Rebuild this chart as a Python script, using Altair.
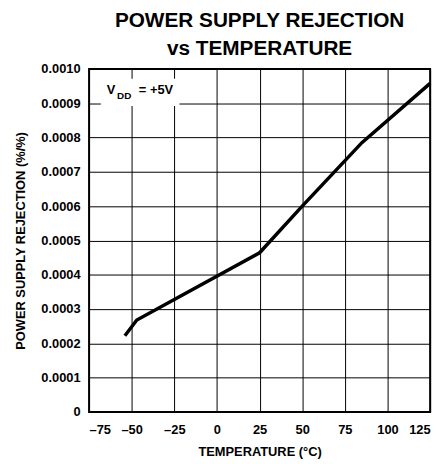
import altair as alt
import pandas as pd

temps = [-54, -47, 25, 50, 85, 125]
psr = [0.000222, 0.000268, 0.000464, 0.000600, 0.000785, 0.000958]
x_ticks = [-75, -50, -25, 0, 25, 50, 75, 100, 125]
y_ticks = [0, 0.0001, 0.0002, 0.0003, 0.0004, 0.0005, 0.0006, 0.0007, 0.0008, 0.0009, 0.0010]

FONT = "Liberation Sans"
df = pd.DataFrame({"t": temps, "p": psr})

xs = alt.Scale(domain=[-75, 125], nice=False, zero=False)
ys = alt.Scale(domain=[0, 0.001], nice=False)
xa = alt.Axis(values=x_ticks, title="TEMPERATURE (°C)", format="d",
              labelExpr="replace(datum.label, '−', '–')")
ya = alt.Axis(values=y_ticks, title="POWER SUPPLY REJECTION (%/%)", labelOverlap=False,
              labelExpr="datum.value == 0 ? '0' : format(datum.value, '.4f')")

line = alt.Chart(df).mark_line(color="black", strokeWidth=3.5).encode(
    x=alt.X("t:Q", scale=xs, axis=xa),
    y=alt.Y("p:Q", scale=ys, axis=ya),
)

box = alt.Chart(pd.DataFrame({"x1": [-68.1], "x2": [-22.0], "y1": [0.000892], "y2": [0.000971]})).mark_rect(
    fill="white", stroke=None
).encode(x=alt.X("x1:Q", scale=xs, axis=xa), x2="x2:Q", y=alt.Y("y1:Q", scale=ys, axis=ya), y2="y2:Q")

lab = pd.DataFrame({
    "x": [-64.6, -58.6, -45.8],
    "y": [0.000937, 0.000922, 0.000937],
    "s": ["V", "DD", "= +5V"],
    "size": [13, 10, 13],
})
txt = alt.Chart(lab).mark_text(align="left", baseline="middle", font=FONT, fontWeight="bold", color="black").encode(
    x=alt.X("x:Q", scale=xs, axis=xa), y=alt.Y("y:Q", scale=ys, axis=ya), text="s:N",
    size=alt.Size("size:Q", scale=None, legend=None)
)

chart = alt.layer(line, box, txt).properties(
    width=345, height=347,
    title=alt.TitleParams(["POWER SUPPLY REJECTION", "vs TEMPERATURE"], font=FONT, fontSize=21,
                          fontWeight="bold", color="black", anchor="middle", offset=4, lineHeight=28),
    autosize=alt.AutoSizeParams(type="none"),
    padding={"left": 82, "top": 59, "right": 10, "bottom": 48},
).configure_view(stroke="black", strokeWidth=2).configure_axis(
    domain=False, grid=True, gridColor="black", gridWidth=1, gridOpacity=1, ticks=False,
    labelFont=FONT, labelFontWeight="bold", labelFontSize=13, labelColor="black",
    titleFont=FONT, titleFontWeight="bold", titleFontSize=13, titleColor="black",
).configure_axisY(labelPadding=9, titlePadding=14).configure_axisX(labelPadding=12, titlePadding=9)

chart.save("out.html", embed_options={"renderer": "svg", "actions": False})
